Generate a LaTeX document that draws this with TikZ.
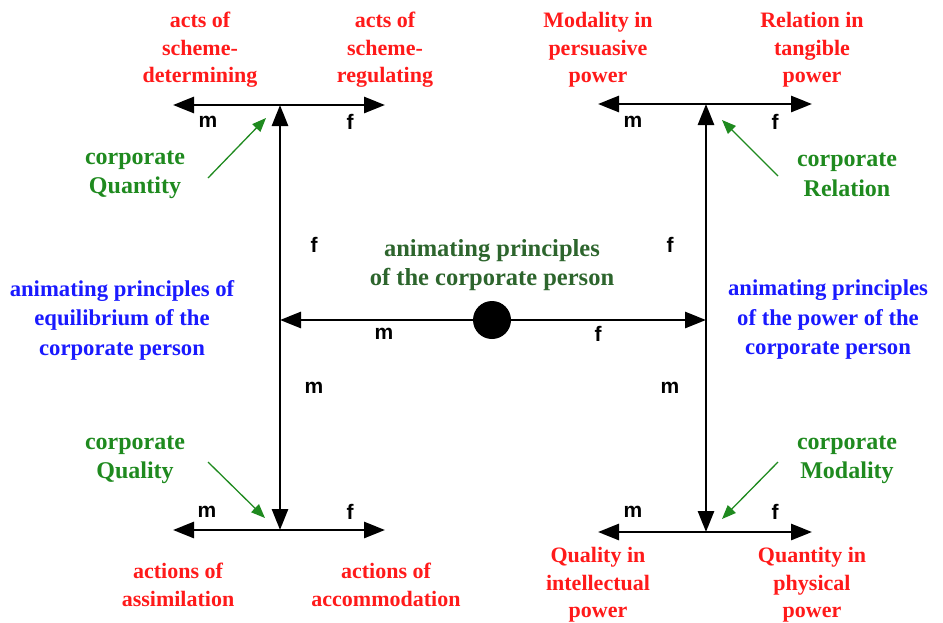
\documentclass[tikz,border=0pt]{standalone}
\usepackage{fontspec}
\setmainfont{Liberation Serif}
\newfontfamily\mfsans{Liberation Sans}
\usepackage{xcolor}
\usetikzlibrary{arrows.meta,positioning,calc}
\definecolor{actred}{HTML}{FF1A1A}
\definecolor{corpgreen}{HTML}{1F8A1F}
\definecolor{animblue}{HTML}{1A1AFF}
\definecolor{animdark}{HTML}{2D652D}

\begin{document}
\begin{tikzpicture}[
  x=1pt,y=-1pt,
  redlbl/.style={text=actred,font=\fontsize{22}{27.5}\selectfont\bfseries,align=center,inner sep=0pt},
  greenlbl/.style={text=corpgreen,font=\fontsize{24}{29.5}\selectfont\bfseries,align=center,inner sep=0pt},
  bluelbl/.style={text=animblue,font=\fontsize{22.7}{29.5}\selectfont\bfseries,align=center,inner sep=0pt},
  mf/.style={font=\mfsans\fontsize{21}{21}\selectfont\bfseries,inner sep=0pt},
  arr/.style={-{Triangle[length=21pt,width=16pt]},line width=2.8pt},
  bar/.style={{Triangle[length=21pt,width=16pt]}-{Triangle[length=21pt,width=16pt]},line width=2.8pt},
  garr/.style={-{Triangle[length=14pt,width=11pt]},line width=1.3pt,draw=corpgreen}
]
\useasboundingbox (0,0) rectangle (943,622);
% junctions
\coordinate (ltop) at (280,105);
\coordinate (lbot) at (280,530);
\coordinate (lmid) at (280,320);
\coordinate (rtop) at (706,104);
\coordinate (rbot) at (706,532);
\coordinate (rmid) at (706,320);
\node[circle,fill=black,minimum width=36pt,minimum height=38pt,inner sep=0pt] (core) at (492,320) {};
% bars
\draw[bar] (173,105) coordinate (ltl) -- (385,105) coordinate (ltr);
\draw[bar] (173,530) coordinate (lbl) -- (385,530) coordinate (lbr);
\draw[bar] (598,104) coordinate (rtl) -- (812,104) coordinate (rtr);
\draw[bar] (598,532) coordinate (rbl) -- (812,532) coordinate (rbr);
\draw[bar] (ltop) -- (lbot);
\draw[bar] (rtop) -- (rbot);
\draw[arr] (core) -- (lmid);
\draw[arr] (core) -- (rmid);
% red labels
\node[redlbl] (detm) at (200,50) {acts of\\scheme-\\determining};
\node[redlbl] (regl) at (385,50) {acts of\\scheme-\\regulating};
\node[redlbl] (modl) at (598,50) {Modality in\\persuasive\\power};
\node[redlbl] (reln) at (812,50) {Relation in\\tangible\\power};
\node[redlbl] (assim) at (178,585) {actions of\\assimilation};
\node[redlbl] (accom) at (386,585) {actions of\\accommodation};
\node[redlbl] (qual) at (598,585) {Quality in\\intellectual\\power};
\node[redlbl] (quant) at (812,585) {Quantity in\\physical\\power};
% green labels
\node[greenlbl] (cqty) at (135,175) {corporate\\Quantity};
\node[greenlbl] (crel) at (847,175) {corporate\\Relation};
\node[greenlbl] (cqual) at (135,460) {corporate\\Quality};
\node[greenlbl] (cmod) at (847,460) {corporate\\Modality};
\coordinate (qtyfoot) at (208,178);
\coordinate (relfoot) at (778,176);
\coordinate (qualfoot) at (208,462);
\coordinate (modfoot) at (778,462);
\draw[garr] (qtyfoot) -- (266,118);
\draw[garr] (relfoot) -- (722,120);
\draw[garr] (qualfoot) -- (265,518);
\draw[garr] (modfoot) -- (722,519);
% blue and central labels
\node[bluelbl] (equil) at (122,320) {animating principles of\\equilibrium of the\\corporate person};
\node[bluelbl] (power) at (828,320) {animating principles\\of the power of the\\corporate person};
\node[bluelbl,text=animdark,font=\fontsize{24.5}{29.5}\selectfont\bfseries] (anim) at (492,265) {animating principles\\of the corporate person};
% m and f
\node[mf] (ltm) at (208,122) {m};
\node[mf] (ltf) at (350,122) {f};
\node[mf] (lbm) at (207,512) {m};
\node[mf] (lbf) at (350,512) {f};
\node[mf] (rtm) at (633,122) {m};
\node[mf] (rtf) at (775,122) {f};
\node[mf] (rbm) at (633,512) {m};
\node[mf] (rbf) at (775,512) {f};
\node[mf] (lvf) at (314,245) {f};
\node[mf] (lvm) at (314,388) {m};
\node[mf] (rvf) at (670,245) {f};
\node[mf] (rvm) at (670,388) {m};
\node[mf] (hm) at (384,334) {m};
\node[mf] (hf) at (598,334) {f};
\end{tikzpicture}
\end{document}
